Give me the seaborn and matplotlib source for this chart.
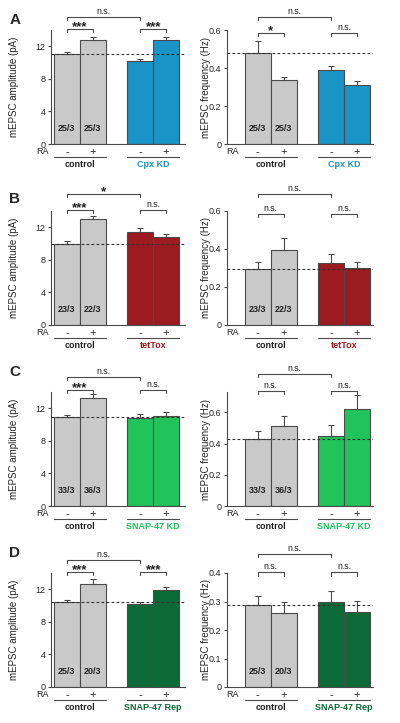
"""Amplitude / frequency bar panels for RA scaling experiments."""

import numpy as np
import pandas as pd
import matplotlib
matplotlib.use("Agg")
import matplotlib.pyplot as plt
import matplotlib.transforms as mtransforms
import seaborn as sns

sns.set_style("white")
plt.rcParams["font.family"] = ["Liberation Sans", "DejaVu Sans"]

# ---- data ----
RA_LABELS  = ["-", "+", "-", "+"]
CONTROL    = "control"
TREATMENTS = ["Cpx KD", "tetTox", "SNAP-47 KD", "SNAP-47 Rep"]
TREAT_COLORS = ["#1a94c6", "#9b1b20", "#20c45a", "#0b6a37"]
N_LABELS   = [["25/3", "25/3"], ["23/3", "22/3"], ["33/3", "36/3"], ["25/3", "20/3"]]

AMP_MEAN = [[11.0, 12.75, 10.15, 12.75],
            [10.0, 13.0, 11.45, 10.85],
            [10.9, 13.25, 10.8, 11.05],
            [10.5, 12.7, 10.25, 11.95]]
AMP_SEM  = [[0.35, 0.35, 0.35, 0.35],
            [0.3, 0.4, 0.45, 0.35],
            [0.3, 0.5, 0.45, 0.45],
            [0.15, 0.55, 0.2, 0.3]]
AMP_SIG  = [["n.s.", "***", "***"],
            ["*", "***", "n.s."],
            ["n.s.", "***", "n.s."],
            ["n.s.", "***", "***"]]
AMP_TICKS = [0, 4, 8, 12]
AMP_YMAX  = 14

FREQ_MEAN = [[0.48, 0.335, 0.387, 0.31],
             [0.297, 0.397, 0.328, 0.30],
             [0.427, 0.515, 0.449, 0.62],
             [0.289, 0.26, 0.30, 0.264]]
FREQ_SEM  = [[0.06, 0.02, 0.025, 0.02],
             [0.033, 0.06, 0.047, 0.033],
             [0.055, 0.064, 0.068, 0.09],
             [0.03, 0.038, 0.037, 0.038]]
FREQ_SIG  = [["n.s.", "*", "n.s."],
             ["n.s.", "n.s.", "n.s."],
             ["n.s.", "n.s.", "n.s."],
             ["n.s.", "n.s.", "n.s."]]
FREQ_TICKS = [[0, 0.2, 0.4, 0.6], [0, 0.2, 0.4, 0.6],
              [0, 0.2, 0.4, 0.6], [0, 0.1, 0.2, 0.3, 0.4]]
FREQ_YMAX  = [0.6, 0.6, 0.73, 0.4]

PANEL_LETTERS = ["A", "B", "C", "D"]

# ---- layout (pixels of a 400x723 figure) ----
W, H = 400, 723
POS = [0, 1, 2.83, 3.83]
ROW_ZERO = [144, 325, 506, 687]
AX_H = 114
LETTER_Y = [20, 199, 372, 553]
OUTER_Y = [[1.114, 1.117], [1.149, 1.147], [1.13, 1.158], [1.114, 1.167]]
INNER_Y = [[1.009, 0.975], [1.01, 0.976], [1.018, 1.01], [1.01, 1.006]]

GREY = "#c9c9c9"
EDGE = "#4a4a4a"
TEXT = "#222222"


def fmt_tick(v):
    return "0" if v == 0 else f"{v:g}"


def bracket(ax, x0, x1, y, text, tip=0.028):
    trans = mtransforms.blended_transform_factory(ax.transData, ax.transAxes)
    ax.plot([x0, x0, x1, x1], [y - tip, y, y, y - tip], transform=trans,
            color=EDGE, lw=0.8, clip_on=False)
    if text.startswith("*"):
        ax.text((x0 + x1) / 2, y - 0.012, text, transform=trans,
                ha="center", va="baseline", fontsize=9.5, fontweight="bold",
                color=TEXT, clip_on=False)
    else:
        ax.text((x0 + x1) / 2, y + 0.025, text, transform=trans,
                ha="center", va="baseline", fontsize=6.3, color=TEXT,
                clip_on=False)


def draw_panel(ax, means, sems, color, treat, n_labels, sig, ymax, yticks,
               ylabel, xlim, label_x, outer_y, inner_y):
    df = pd.DataFrame({"pos": POS, "value": means,
                       "bar": ["c-", "c+", "t-", "t+"]})
    sns.barplot(data=df, x="pos", y="value", hue="bar",
                palette=[GREY, GREY, color, color], native_scale=True,
                width=1.0, errorbar=None, legend=False, saturation=1,
                edgecolor=EDGE, linewidth=0.8, ax=ax)
    ax.errorbar(POS, means, yerr=[np.zeros(len(means)), sems], fmt="none",
                ecolor=EDGE, elinewidth=0.8, capsize=2, capthick=0.8, zorder=3)
    ax.axhline(means[0], color="#333333", lw=0.8, ls=(0, (2.5, 2)), zorder=4)

    ax.set_xlim(*xlim)
    ax.set_ylim(0, ymax)
    ax.set_xticks([])
    ax.set_xlabel("")
    ax.set_yticks(yticks)
    ax.set_yticklabels([fmt_tick(v) for v in yticks])
    ax.tick_params(axis="y", direction="out", length=2.5, width=0.8,
                   color=EDGE, labelsize=6.5, pad=1.5, left=True)
    ax.set_ylabel(ylabel, fontsize=7)
    ax.yaxis.set_label_coords(label_x, 0.5)
    for side in ["top", "right"]:
        ax.spines[side].set_visible(False)
    for side in ["left", "bottom"]:
        ax.spines[side].set_color(EDGE)
        ax.spines[side].set_linewidth(0.8)

    trans = mtransforms.blended_transform_factory(ax.transData, ax.transAxes)
    ax.text(-0.72, -0.07, "RA", transform=trans, ha="right", va="center",
            fontsize=6.5, color=TEXT)
    for p, s in zip(POS, RA_LABELS):
        ax.text(p, -0.07, s, transform=trans, ha="center", va="center",
                fontsize=8, color=TEXT)
    for p, s in zip(POS[:2], n_labels):
        ax.text(p, 0.14, s, transform=trans, ha="center", va="center",
                fontsize=6.5, fontweight="bold", color=TEXT)
    for (a, b), name, c in [((POS[0], POS[1]), CONTROL, TEXT),
                            ((POS[2], POS[3]), treat, color)]:
        ax.plot([a - 0.5, b + 0.5], [-0.11, -0.11], transform=trans,
                color=EDGE, lw=0.8, clip_on=False)
        ax.text((a + b) / 2, -0.18, name, transform=trans, ha="center",
                va="center", fontsize=6.5, fontweight="bold", color=c)

    bracket(ax, POS[0], POS[2], outer_y, sig[0])
    bracket(ax, POS[0], POS[1], inner_y, sig[1])
    bracket(ax, POS[2], POS[3], inner_y, sig[2])


def make_figure():
    fig = plt.figure(figsize=(W / 100, H / 100), dpi=100)
    for i in range(4):
        bottom = (H - ROW_ZERO[i]) / H
        ax_l = fig.add_axes([51 / W, bottom, 134 / W, AX_H / H])
        ax_r = fig.add_axes([227 / W, bottom, 146 / W, AX_H / H])
        draw_panel(ax_l, AMP_MEAN[i], AMP_SEM[i], TREAT_COLORS[i], TREATMENTS[i],
                   N_LABELS[i], AMP_SIG[i], AMP_YMAX, AMP_TICKS,
                   "mEPSC amplitude (pA)", (-0.615, 4.56), -0.24,
                   OUTER_Y[i][0], INNER_Y[i][0])
        draw_panel(ax_r, FREQ_MEAN[i], FREQ_SEM[i], TREAT_COLORS[i], TREATMENTS[i],
                   N_LABELS[i], FREQ_SIG[i], FREQ_YMAX[i], FREQ_TICKS[i],
                   "mEPSC frequency (Hz)", (-1.19, 4.45), -0.11,
                   OUTER_Y[i][1], INNER_Y[i][1])
        fig.text(15 / W, 1 - LETTER_Y[i] / H, PANEL_LETTERS[i], ha="center",
                 va="center", fontsize=11, fontweight="bold")
    fig.savefig("out.png", dpi=100)
    plt.close(fig)


if __name__ == "__main__":
    make_figure()
